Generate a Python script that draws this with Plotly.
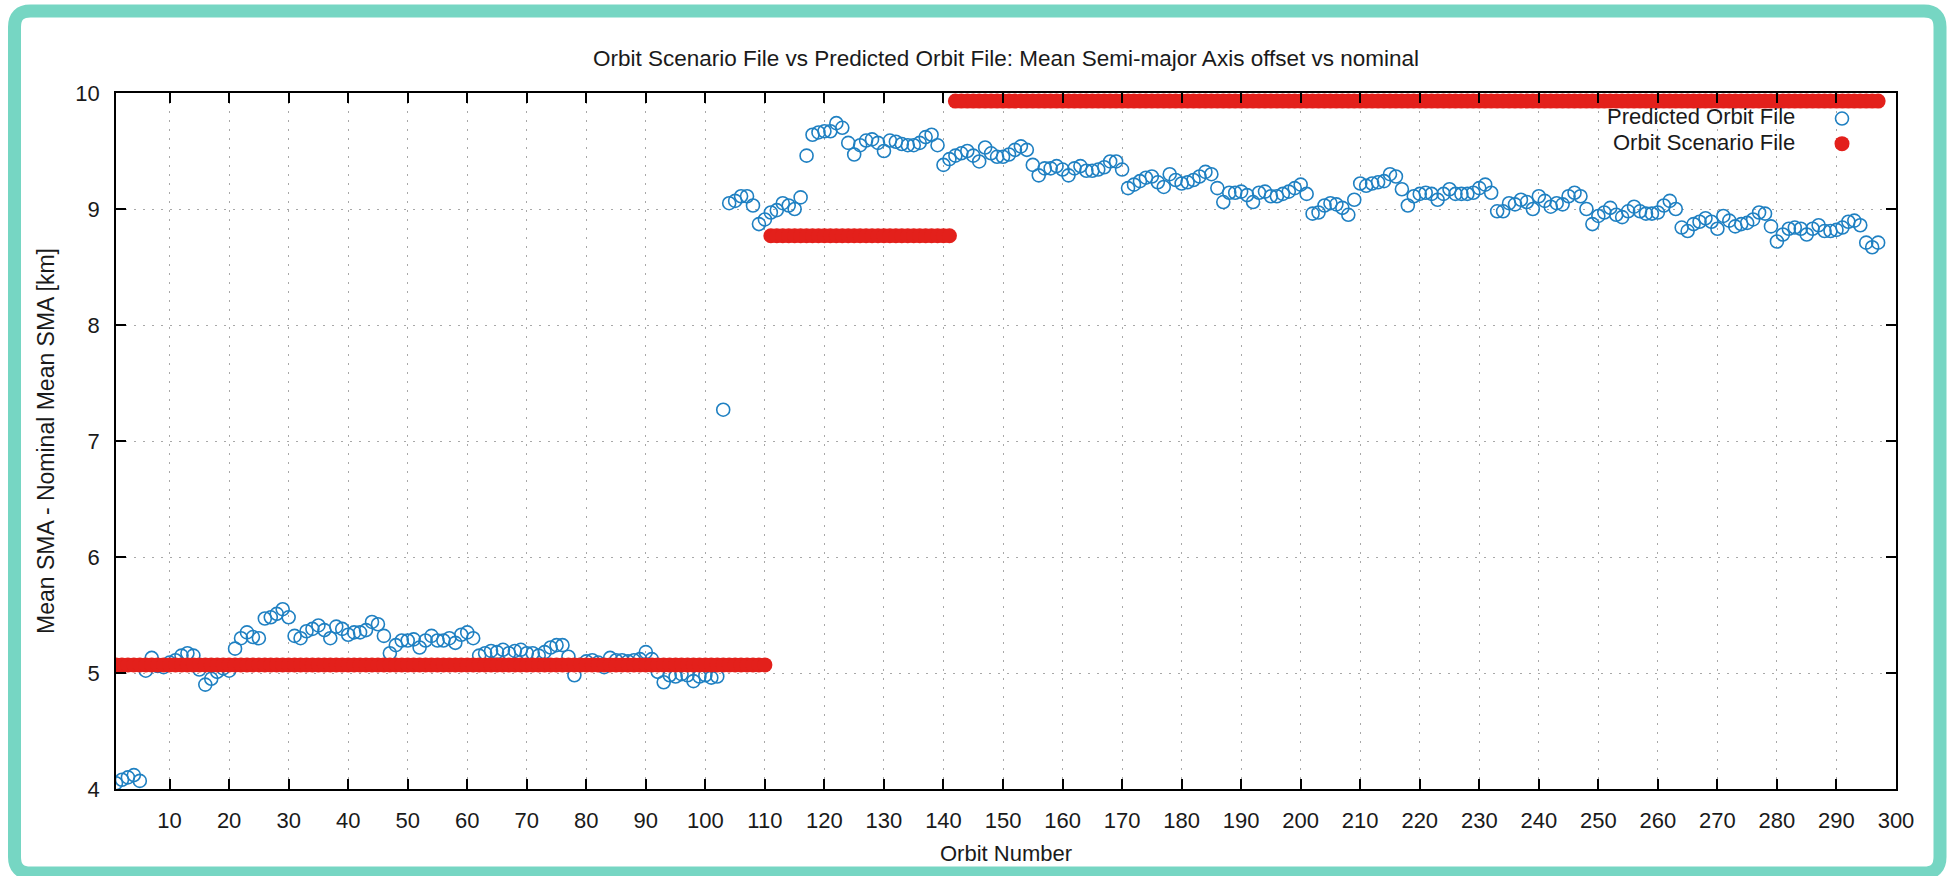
import plotly.graph_objects as go

# DATA
orbit_numbers = list(range(1, 298))

predicted_sma = [
    4.05, 4.08, 4.10, 4.12, 4.07, 5.02, 5.13, 5.06, 5.05, 5.09,
    5.11, 5.15, 5.17, 5.15, 5.03, 4.90, 4.95, 5.01, 5.04, 5.02,
    5.21, 5.30, 5.35, 5.31, 5.30, 5.47, 5.48, 5.51, 5.55, 5.48,
    5.32, 5.30, 5.36, 5.38, 5.41, 5.37, 5.30, 5.40, 5.38, 5.33,
    5.35, 5.35, 5.37, 5.44, 5.42, 5.32, 5.17, 5.24, 5.28, 5.28,
    5.29, 5.22, 5.28, 5.32, 5.28, 5.28, 5.30, 5.26, 5.33, 5.35,
    5.30, 5.15, 5.17, 5.19, 5.18, 5.20, 5.17, 5.19, 5.20, 5.17,
    5.17, 5.15, 5.18, 5.22, 5.24, 5.24, 5.14, 4.98, 5.07, 5.10,
    5.11, 5.09, 5.05, 5.13, 5.11, 5.11, 5.10, 5.11, 5.12, 5.18,
    5.12, 5.01, 4.92, 4.98, 4.97, 4.99, 4.98, 4.93, 4.97, 4.98,
    4.96, 4.97, 7.27, 9.05, 9.07, 9.11, 9.11, 9.03, 8.87, 8.91,
    8.97, 8.99, 9.05, 9.03, 9.00, 9.10, 9.46, 9.64, 9.66, 9.67,
    9.67, 9.74, 9.70, 9.57, 9.47, 9.55, 9.59, 9.60, 9.57, 9.50,
    9.59, 9.58, 9.56, 9.55, 9.55, 9.57, 9.62, 9.64, 9.55, 9.38,
    9.43, 9.46, 9.48, 9.50, 9.46, 9.41, 9.53, 9.48, 9.45, 9.45,
    9.47, 9.51, 9.54, 9.51, 9.38, 9.29, 9.35, 9.35, 9.37, 9.34,
    9.29, 9.35, 9.37, 9.33, 9.33, 9.34, 9.36, 9.41, 9.41, 9.34,
    9.18, 9.21, 9.24, 9.27, 9.28, 9.23, 9.19, 9.30, 9.25, 9.22,
    9.23, 9.25, 9.28, 9.32, 9.30, 9.18, 9.06, 9.14, 9.14, 9.15,
    9.12, 9.06, 9.14, 9.15, 9.11, 9.11, 9.13, 9.15, 9.18, 9.21,
    9.13, 8.96, 8.97, 9.03, 9.05, 9.04, 9.01, 8.95, 9.08, 9.22,
    9.20, 9.22, 9.23, 9.24, 9.30, 9.28, 9.17, 9.03, 9.11, 9.13,
    9.14, 9.13, 9.08, 9.13, 9.17, 9.13, 9.13, 9.13, 9.14, 9.18,
    9.21, 9.14, 8.98, 8.98, 9.05, 9.04, 9.08, 9.06, 9.00, 9.11,
    9.07, 9.02, 9.05, 9.04, 9.11, 9.14, 9.11, 9.00, 8.87, 8.94,
    8.97, 9.01, 8.95, 8.93, 8.98, 9.02, 8.98, 8.96, 8.96, 8.97,
    9.03, 9.07, 9.00, 8.84, 8.81, 8.87, 8.89, 8.92, 8.89, 8.83,
    8.94, 8.90, 8.85, 8.87, 8.88, 8.91, 8.97, 8.96, 8.85, 8.72,
    8.78, 8.83, 8.84, 8.83, 8.78, 8.83, 8.86, 8.81, 8.81, 8.82,
    8.84, 8.89, 8.90, 8.86, 8.71, 8.67, 8.71,
]

# scenario file: constant level per block of orbits
scenario_first_orbit = [1, 111, 142]
scenario_level = [5.07, 8.77, 9.93]

x_ticks = list(range(10, 301, 10))
y_ticks = [4, 5, 6, 7, 8, 9, 10]

scenario_sma = []
for n in orbit_numbers:
    block = max(i for i, start in enumerate(scenario_first_orbit) if n >= start)
    scenario_sma.append(scenario_level[block])

# LAYOUT CONSTANTS (pixels)
W, H = 1947, 876
L, R, T, B = 116, 1896, 93, 789
FONT = "Liberation Sans, Arial, Helvetica, sans-serif"
FS = 22
INK = "#1a1a1a"


def px(x):
    return (x - L) / (R - L)


def py(y):
    return (B - y) / (B - T)


fig = go.Figure()

fig.add_trace(go.Scatter(
    x=orbit_numbers, y=predicted_sma, mode="markers", name="",
    marker=dict(symbol="circle-open", size=13, color="#1f80c2", line=dict(width=1.6)),
))
fig.add_trace(go.Scatter(
    x=orbit_numbers, y=scenario_sma, mode="markers", name="",
    marker=dict(symbol="circle", size=15, color="#e3201b"),
))

axis_style = dict(
    showline=True, linecolor="black", linewidth=1.5, mirror="ticks",
    ticks="inside", ticklen=10, tickwidth=1.5, tickcolor="black",
    showgrid=True, gridcolor="#a8a8a8", griddash="2px,7px", gridwidth=1,
    zeroline=False, tickfont=dict(family=FONT, size=FS, color=INK),
)

fig.update_xaxes(range=[1, 300], tickvals=x_ticks, ticklabelstandoff=11,
                 title=dict(text="Orbit Number", font=dict(family=FONT, size=FS, color=INK), standoff=13),
                 **axis_style)
fig.update_yaxes(range=[4, 10], tickvals=y_ticks, ticklabelstandoff=10,
                 title=dict(text="Mean SMA - Nominal Mean SMA [km]", font=dict(family=FONT, size=23, color=INK),
                            standoff=14),
                 **axis_style)

# rounded teal frame around the picture
x0, x1 = px(14.5), px(1940)
y0, y1 = py(11), py(873)
rx, ry = 16 / (R - L), 16 / (B - T)
frame = (f"M {x0 + rx} {y0} L {x1 - rx} {y0} Q {x1} {y0} {x1} {y0 - ry} "
         f"L {x1} {y1 + ry} Q {x1} {y1} {x1 - rx} {y1} L {x0 + rx} {y1} "
         f"Q {x0} {y1} {x0} {y1 + ry} L {x0} {y0 - ry} Q {x0} {y0} {x0 + rx} {y0} Z")
fig.add_shape(type="path", path=frame, xref="paper", yref="paper",
              line=dict(color="#76d6c3", width=13), layer="above")

# legend text sits left of its symbol, as in the original
legend_x = px(1797)
for text, ypix in [("Predicted Orbit File", 117), ("Orbit Scenario File", 142)]:
    fig.add_annotation(x=legend_x, y=py(ypix), xref="paper", yref="paper", text=text,
                       showarrow=False, xanchor="right", yanchor="middle",
                       font=dict(family=FONT, size=FS, color=INK))

fig.update_layout(
    width=W, height=H,
    margin=dict(l=L, r=W - R, t=T, b=H - B),
    paper_bgcolor="white", plot_bgcolor="white",
    title=dict(text="Orbit Scenario File vs Predicted Orbit File: Mean Semi-major Axis offset vs nominal",
               x=0.5, xref="paper", xanchor="center", y=1 - 58 / H, yanchor="middle",
               font=dict(family=FONT, size=22.5, color=INK)),
    showlegend=True,
    legend=dict(x=px(1822), y=py(101), xanchor="left", yanchor="top",
                bgcolor="rgba(0,0,0,0)", font=dict(family=FONT, size=17),
                itemwidth=30, tracegroupgap=0),
)

# page body has a default 8px margin; drop it so the figure fills the window exactly
fig.write_html("out.html", config={"displayModeBar": False},
               post_script="document.body.style.margin = '0';")
